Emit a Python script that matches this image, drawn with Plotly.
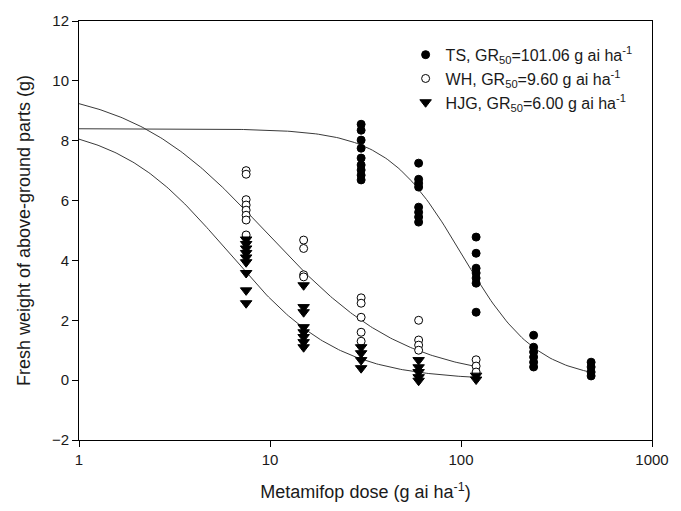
import numpy as np
import plotly.graph_objects as go

# ---- observed data (dose in g ai/ha, fresh weight in g) ----
ts_dose = [30]*9 + [60]*8 + [120]*7 + [240]*6 + [480]*4
ts_weight = [8.55, 8.35, 8.02, 7.75, 7.42, 7.19, 7.02, 6.85, 6.69,
             7.25, 6.71, 6.58, 6.45, 5.78, 5.61, 5.45, 5.28,
             4.78, 4.24, 3.74, 3.58, 3.41, 3.24, 2.27,
             1.50, 1.10, 0.94, 0.77, 0.60, 0.44,
             0.60, 0.44, 0.27, 0.14]

wh_dose = [7.5]*8 + [15]*4 + [30]*5 + [60]*4 + [120]*3
wh_weight = [7.00, 6.88, 6.03, 5.85, 5.68, 5.51, 5.35, 4.85,
             4.68, 4.40, 3.52, 3.45,
             2.75, 2.57, 2.10, 1.60, 1.30,
             2.00, 1.34, 1.17, 1.00,
             0.68, 0.47, 0.27]

hjg_dose = [7.5]*9 + [15]*8 + [30]*4 + [60]*5 + [120]*2
hjg_weight = [4.70, 4.55, 4.40, 4.25, 4.10, 3.94, 3.58, 3.00, 2.57,
              3.17, 2.44, 2.27, 1.77, 1.60, 1.44, 1.27, 1.10,
              1.10, 0.90, 0.67, 0.40,
              0.67, 0.43, 0.27, 0.10, -0.02,
              0.15, 0.02]

# ---- fitted log-logistic parameters: upper limit d, slope b, GR50 ----
series_names = ["TS, GR<sub>50</sub>=101.06 g ai ha<sup>-1</sup>",
                "WH, GR<sub>50</sub>=9.60 g ai ha<sup>-1</sup>",
                "HJG, GR<sub>50</sub>=6.00 g ai ha<sup>-1</sup>"]
fit_upper = [8.40, 9.85, 8.60]
fit_slope = [2.2, 1.2, 1.5]
fit_gr50 = [101.06, 9.60, 6.00]
fit_xmax = [480, 120, 120]

x_tickvals = [1, 10, 100, 1000]
y_tickvals = [-2, 0, 2, 4, 6, 8, 10, 12]

FONT = "Liberation Sans, Arial, sans-serif"
fig = go.Figure()

# fitted curves
for d, b, e, xm in zip(fit_upper, fit_slope, fit_gr50, fit_xmax):
    xs = np.logspace(0, np.log10(xm), 200)
    ys = d / (1 + (xs / e) ** b)
    fig.add_trace(go.Scatter(x=xs, y=ys, mode="lines",
                             line=dict(color="#3a3a3a", width=1),
                             showlegend=False, hoverinfo="skip"))

fig.add_trace(go.Scatter(x=ts_dose, y=ts_weight, mode="markers", name=series_names[0],
                         legendgroup="a",
                         marker=dict(symbol="circle", size=8, color="black",
                                     line=dict(color="black", width=1))))
fig.add_trace(go.Scatter(x=wh_dose, y=wh_weight, mode="markers", name=series_names[1],
                         legendgroup="b",
                         marker=dict(symbol="circle", size=8, color="white",
                                     line=dict(color="black", width=1))))
fig.add_trace(go.Scatter(x=hjg_dose, y=hjg_weight, mode="markers", name=series_names[2],
                         legendgroup="c",
                         marker=dict(symbol="triangle-down", size=10, color="black",
                                     line=dict(color="black", width=1))))

fig.update_layout(
    width=681, height=511,
    margin=dict(l=79, r=18, t=21, b=71),
    paper_bgcolor="white", plot_bgcolor="white",
    font=dict(family=FONT, color="#1a1a1a", size=15),
    showlegend=True,
    legend=dict(x=0.57, y=0.96, xanchor="left", yanchor="top",
                bgcolor="rgba(0,0,0,0)", font=dict(size=16, family=FONT),
                tracegroupgap=0),
    xaxis=dict(type="log", range=[0, 3], tickvals=x_tickvals,
               ticktext=[str(v) for v in x_tickvals],
               showline=True, linecolor="black", linewidth=1, mirror=True,
               ticks="outside", ticklen=6, tickcolor="black",
               showgrid=False, zeroline=False,
               title=dict(text="Metamifop dose (g ai ha<sup>-1</sup>)",
                          font=dict(size=18, family=FONT), standoff=18),
               tickfont=dict(size=15)),
    yaxis=dict(range=[-2, 12], tickvals=y_tickvals,
               showline=True, linecolor="black", linewidth=1, mirror=True,
               ticks="outside", ticklen=6, tickcolor="black",
               showgrid=False, zeroline=False,
               title=dict(text="Fresh weight of above-ground parts (g)",
                          font=dict(size=18, family=FONT), standoff=16),
               tickfont=dict(size=15)),
)

fig.write_html("out.html")
